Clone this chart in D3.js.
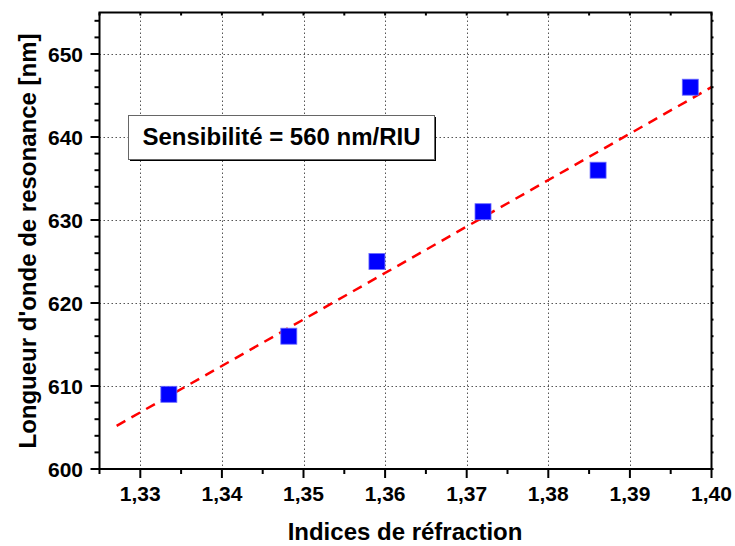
<!DOCTYPE html>
<html>
<head>
<meta charset="utf-8">
<script src="https://cdn.jsdelivr.net/npm/d3@7"></script>
<style>
  html, body { margin: 0; padding: 0; background: #fff; }
  svg { display: block; }
  text { font-family: "Liberation Sans", Arial, sans-serif; font-weight: bold; fill: #000; }
</style>
</head>
<body>
<svg id="chart" width="735" height="546"></svg>
<script>
// ---- data ----
const refractiveIndex = [1.3335, 1.3482, 1.3590, 1.3720, 1.3861, 1.3974];
const resonanceNm     = [609, 616, 625, 631, 636, 646];
const fitX = [1.3271, 1.40];
const fitY = [605.2, 646.0];
const xMajorTicks = [1.33, 1.34, 1.35, 1.36, 1.37, 1.38, 1.39, 1.40];
const xMinorTicks = [1.325, 1.335, 1.345, 1.355, 1.365, 1.375, 1.385, 1.395];
const yMajorTicks = [600, 610, 620, 630, 640, 650];
const yMinorTicks = [602, 604, 606, 608, 612, 614, 616, 618, 622, 624, 626, 628, 632, 634, 636, 638, 642, 644, 646, 648, 652, 654];
const xTitle = "Indices de réfraction";
const yTitle = "Longueur d'onde de resonance [nm]";
const annotation = "Sensibilité = 560 nm/RIU";

// ---- layout ----
const L = 99.5, R = 711.5, T = 12.5, B = 469;
const svg = d3.select("#chart");
const x = d3.scaleLinear().domain([1.325, 1.40]).range([L, R]);
const y = d3.scaleLinear().domain([600, 655]).range([B, T]);
const fmtX = v => d3.format(".2f")(v).replace(".", ",");

// grid
const grid = svg.append("g").attr("stroke", "#555").attr("stroke-width", 1).attr("stroke-dasharray", "1.5,2.5");
grid.selectAll(".gx").data(xMajorTicks.filter(v => v < 1.40)).join("line")
  .attr("x1", d => Math.round(x(d)) + 0.5).attr("x2", d => Math.round(x(d)) + 0.5)
  .attr("y1", T).attr("y2", B);
grid.selectAll(".gy").data(yMajorTicks.filter(v => v > 600)).join("line")
  .attr("y1", d => Math.round(y(d)) + 0.5).attr("y2", d => Math.round(y(d)) + 0.5)
  .attr("x1", L).attr("x2", R);

// annotation box
const box = svg.append("g");
box.append("rect").attr("x", 130).attr("y", 117).attr("width", 306).attr("height", 44).attr("fill", "#000");
box.append("rect").attr("x", 128.5).attr("y", 115.5).attr("width", 306).attr("height", 44)
  .attr("fill", "#fff").attr("stroke", "#666").attr("stroke-width", 1);
box.append("text").attr("x", 281.5).attr("y", 145).attr("text-anchor", "middle")
  .attr("font-size", 24).text(annotation);

// fit line
svg.append("defs").append("clipPath").attr("id", "clip")
  .append("rect").attr("x", L).attr("y", T).attr("width", R - L).attr("height", B - T);
const line = d3.line().x((d, i) => x(fitX[i])).y(d => y(d));
svg.append("path").datum(fitY).attr("d", line).attr("clip-path", "url(#clip)")
  .attr("fill", "none").attr("stroke", "#ff0000").attr("stroke-width", 2.5)
  .attr("stroke-dasharray", "10,7");

// points
svg.append("g").selectAll("rect").data(refractiveIndex).join("rect")
  .attr("x", (d) => x(d) - 8).attr("y", (d, i) => y(resonanceNm[i]) - 8)
  .attr("width", 16).attr("height", 16)
  .attr("fill", "#0000ff").attr("stroke", "#6b6bff").attr("stroke-width", 0.8);

// axes frame
const ax = svg.append("g").attr("stroke", "#000").attr("stroke-width", 2);
ax.append("rect").attr("x", L).attr("y", T).attr("width", R - L).attr("height", B - T).attr("fill", "none");

// bottom ticks
ax.selectAll(".bx").data(xMajorTicks).join("line")
  .attr("x1", d => x(d)).attr("x2", d => x(d)).attr("y1", B).attr("y2", B + 9);
ax.selectAll(".bxm").data(xMinorTicks).join("line")
  .attr("x1", d => x(d)).attr("x2", d => x(d)).attr("y1", B).attr("y2", B + 5);
// top ticks (small inward)
ax.selectAll(".tx").data(xMajorTicks.concat(xMinorTicks)).join("line")
  .attr("x1", d => x(d)).attr("x2", d => x(d)).attr("y1", T).attr("y2", T + 3);
// left ticks
ax.selectAll(".ly").data(yMajorTicks).join("line")
  .attr("y1", d => y(d)).attr("y2", d => y(d)).attr("x1", L).attr("x2", L - 9);
ax.selectAll(".lym").data(yMinorTicks).join("line")
  .attr("y1", d => y(d)).attr("y2", d => y(d)).attr("x1", L).attr("x2", L - 5);
// right ticks (small)
ax.selectAll(".ry").data(yMajorTicks.concat(yMinorTicks)).join("line")
  .attr("y1", d => y(d)).attr("y2", d => y(d)).attr("x1", R).attr("x2", R + 2);

// tick labels
svg.append("g").selectAll("text").data(xMajorTicks).join("text")
  .attr("x", d => x(d)).attr("y", 501).attr("text-anchor", "middle")
  .attr("font-size", 21).text(fmtX);
svg.append("g").selectAll("text").data(yMajorTicks).join("text")
  .attr("x", 83).attr("y", d => y(d) + 7.5).attr("text-anchor", "end")
  .attr("font-size", 21).text(d => d);

// titles
svg.append("text").attr("x", 405).attr("y", 540).attr("text-anchor", "middle")
  .attr("font-size", 24).text(xTitle);
svg.append("text").attr("transform", "translate(36,241) rotate(-90)").attr("text-anchor", "middle")
  .attr("font-size", 24).text(yTitle);
</script>
</body>
</html>
